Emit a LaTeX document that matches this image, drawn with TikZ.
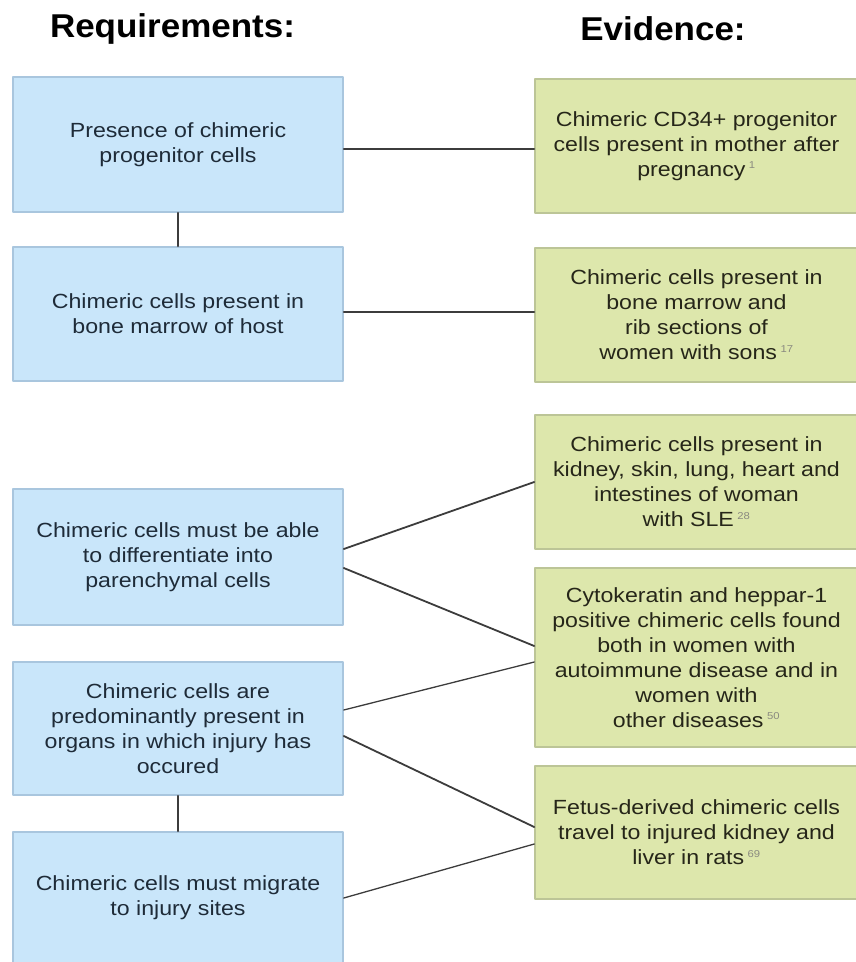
\documentclass[tikz,border=0pt]{standalone}
\usepackage{fontspec}
\setmainfont[FakeStretch=1.13]{Liberation Sans}
\newfontfamily\titlefont[FakeStretch=1.06]{Liberation Sans}
\usetikzlibrary{positioning}
\definecolor{reqfill}{HTML}{C9E6FA}
\definecolor{reqline}{HTML}{A9C6DE}
\definecolor{reqtext}{HTML}{1E2B38}
\definecolor{evfill}{HTML}{DDE7AC}
\definecolor{evline}{HTML}{BCC597}
\definecolor{evtext}{HTML}{262619}
\definecolor{linkgray}{HTML}{3C3C3C}
\definecolor{refgray}{HTML}{8A8A80}
\newcommand{\evref}[1]{\,\textsuperscript{\textcolor{refgray}{\fontsize{10}{10}\selectfont #1}}}
\tikzset{
  reqbox/.style={draw=reqline,fill=reqfill,line width=1.5pt,text=reqtext,
    minimum width=330pt,align=center,inner sep=0pt,
    font=\fontsize{20.5}{25}\selectfont},
  evbox/.style={draw=evline,fill=evfill,line width=1.5pt,text=evtext,
    minimum width=323pt,align=center,inner sep=0pt,
    font=\fontsize{20.5}{25}\selectfont},
  heading/.style={font=\titlefont\bfseries\fontsize{33}{36}\selectfont,anchor=base},
  link/.style={draw=linkgray,line width=1.8pt}
}
\begin{document}
\begin{tikzpicture}[x=1pt,y=-1pt,line cap=round,line join=round]
\useasboundingbox (0,0) rectangle (856,962);
\clip (0,0) rectangle (856,962);
% headings
\node[heading] (reqhead) at (172.5,37) {Requirements:};
\node[heading] (evhead) at (663,40) {Evidence:};
% requirements
\node[reqbox,minimum height=135pt] (req1) at (178,144.5) {Presence of chimeric\\progenitor cells};
\node[reqbox,minimum height=134pt] (req2) at (178,314) {Chimeric cells present in\\bone marrow of host};
\node[reqbox,minimum height=136pt] (req3) at (178,557) {Chimeric cells must be able\\to differentiate into\\parenchymal cells};
\node[reqbox,minimum height=133pt] (req4) at (178,728.5) {Chimeric cells are\\predominantly present in\\organs in which injury has\\occured};
\node[reqbox,minimum height=132pt] (req5) at (178,898) {Chimeric cells must migrate\\to injury sites};
% evidence
\node[evbox,minimum height=134pt] (ev1) at (696.5,146) {Chimeric CD34+ progenitor\\cells present in mother after\\pregnancy\evref{1}};
\node[evbox,minimum height=134pt] (ev2) at (696.5,315) {Chimeric cells present in\\bone marrow and\\rib sections of\\women with sons\evref{17}};
\node[evbox,minimum height=134pt] (ev3) at (696.5,482) {Chimeric cells present in\\kidney, skin, lung, heart and\\intestines of woman\\with SLE\evref{28}};
\node[evbox,minimum height=179pt] (ev4) at (696.5,657.5) {Cytokeratin and heppar-1\\positive chimeric cells found\\both in women with\\autoimmune disease and in\\women with\\other diseases\evref{50}};
\node[evbox,minimum height=133pt] (ev5) at (696.5,832.5) {Fetus-derived chimeric cells\\travel to injured kidney and\\liver in rats\evref{69}};
% links
\draw[link] (req1) -- (req2);
\draw[link] (req4) -- (req5);
\draw[link] ([yshift=-4.5pt]req1.east) -- ([yshift=-3pt]ev1.west);
\draw[link] ([yshift=2pt]req2.east) -- ([yshift=3pt]ev2.west);
\draw[link] ([yshift=8pt]req3.east) -- (ev3.west);
\draw[link] ([yshift=-11pt]req3.east) -- ([yshift=11.5pt]ev4.west);
\draw[link,line width=1.3pt] ([yshift=18.5pt]req4.east) -- ([yshift=-4.5pt]ev4.west);
\draw[link] ([yshift=-7.5pt]req4.east) -- ([yshift=5.5pt]ev5.west);
\draw[link,line width=1.3pt] (req5.east) -- ([yshift=-11.5pt]ev5.west);
\end{tikzpicture}
\end{document}
